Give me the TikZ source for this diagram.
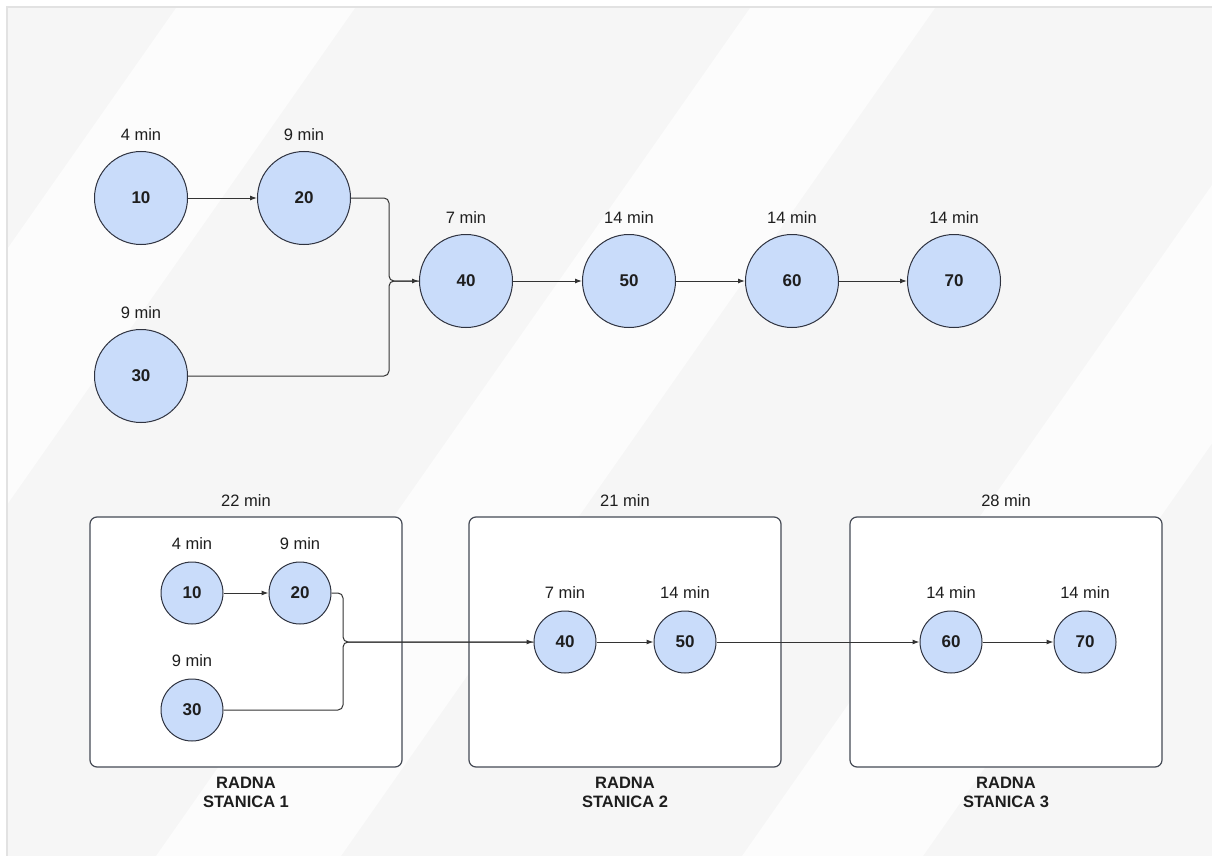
\documentclass[tikz,border=0pt]{standalone}
\usepackage{fontspec}
\setmainfont{Liberation Sans}
\usetikzlibrary{arrows.meta,calc}
\definecolor{bgc}{HTML}{F6F6F6}
\definecolor{bandc}{HTML}{FCFCFC}
\definecolor{framec}{HTML}{E2E2E2}
\definecolor{circfill}{HTML}{C9DCFA}
\definecolor{circline}{HTML}{2F3340}
\definecolor{linec}{HTML}{333333}
\definecolor{boxline}{HTML}{454A55}
\definecolor{txt}{HTML}{1E1E1E}
\begin{document}
\begin{tikzpicture}[x=1pt,y=-1pt,
  big/.style={circle,draw=circline,fill=circfill,line width=1pt,minimum size=93pt,inner sep=0pt,
    font=\fontsize{17}{20}\selectfont\bfseries,text=txt},
  small/.style={big,minimum size=62pt},
  lbl/.style={font=\fontsize{16.5}{19}\selectfont,text=txt,inner sep=0pt},
  conn/.style={draw=linec,line width=1pt},
  arr/.style={conn,-{Latex[length=7pt,width=5pt]}},
  station/.style={draw=boxline,fill=white,line width=1.2pt,rounded corners=7pt},
  stlbl/.style={font=\fontsize{16.5}{19}\selectfont\bfseries,text=txt,align=center,inner sep=0pt}
]
\useasboundingbox (0,0) rectangle (1212,856);
% background
\fill[white] (0,0) rectangle (1212,856);
\fill[bgc] (8,8) rectangle (1212,856);
\begin{scope}
\clip (8,8) rectangle (1212,856);
\fill[bandc] (176,8) -- (355,8) -- (-239,856) -- (-418,856) -- cycle;
\fill[bandc] (750,8) -- (935,8) -- (341,856) -- (156,856) -- cycle;
\fill[bandc] (1336,8) -- (1517,8) -- (923,856) -- (742,856) -- cycle;
\end{scope}
\draw[framec,line width=2pt] (7,856) -- (7,7) -- (1212,7);

% ---------- top diagram ----------
\node[big] (t10) at (141,198) {10};
\node[big] (t20) at (304,198) {20};
\node[big] (t30) at (141,376) {30};
\node[big] (t40) at (466,281) {40};
\node[big] (t50) at (629,281) {50};
\node[big] (t60) at (792,281) {60};
\node[big] (t70) at (954,281) {70};
\node[lbl] (lt10) at ($(t10.north)+(0,-16)$) {4 min};
\node[lbl] (lt20) at ($(t20.north)+(0,-16)$) {9 min};
\node[lbl] (lt30) at ($(t30.north)+(0,-16)$) {9 min};
\node[lbl] (lt40) at ($(t40.north)+(0,-16)$) {7 min};
\node[lbl] (lt50) at ($(t50.north)+(0,-16)$) {14 min};
\node[lbl] (lt60) at ($(t60.north)+(0,-16)$) {14 min};
\node[lbl] (lt70) at ($(t70.north)+(0,-16)$) {14 min};
\coordinate (tj) at (389,281);
\draw[arr] (t10) -- (t20);
\draw[conn,rounded corners=5pt] (t20.east) -- (tj |- t20.east) -- (tj) -- (t40.west);
\draw[arr,rounded corners=5pt] (t30.east) -- (tj |- t30.east) -- (tj) -- (t40.west);
\draw[arr] (t40) -- (t50);
\draw[arr] (t50) -- (t60);
\draw[arr] (t60) -- (t70);

% ---------- bottom diagram ----------
\draw[station] (90,517) rectangle (402,767);
\draw[station] (469,517) rectangle (781,767);
\draw[station] (850,517) rectangle (1162,767);
\node[lbl] (s1t) at (246,501) {22 min};
\node[lbl] (s2t) at (625,501) {21 min};
\node[lbl] (s3t) at (1006,501) {28 min};
\node[stlbl] (s1b) at (246,792) {RADNA\\STANICA 1};
\node[stlbl] (s2b) at (625,792) {RADNA\\STANICA 2};
\node[stlbl] (s3b) at (1006,792) {RADNA\\STANICA 3};

\node[small] (b10) at (192,593) {10};
\node[small] (b20) at (300,593) {20};
\node[small] (b30) at (192,710) {30};
\node[small] (b40) at (565,642) {40};
\node[small] (b50) at (685,642) {50};
\node[small] (b60) at (951,642) {60};
\node[small] (b70) at (1085,642) {70};
\node[lbl] (lb10) at ($(b10.north)+(0,-18)$) {4 min};
\node[lbl] (lb20) at ($(b20.north)+(0,-18)$) {9 min};
\node[lbl] (lb30) at ($(b30.north)+(0,-18)$) {9 min};
\node[lbl] (lb40) at ($(b40.north)+(0,-18)$) {7 min};
\node[lbl] (lb50) at ($(b50.north)+(0,-18)$) {14 min};
\node[lbl] (lb60) at ($(b60.north)+(0,-18)$) {14 min};
\node[lbl] (lb70) at ($(b70.north)+(0,-18)$) {14 min};
\coordinate (bj) at (343,642);
\draw[arr] (b10) -- (b20);
\draw[conn,rounded corners=5pt] (b20.east) -- (bj |- b20.east) -- (bj) -- (b40.west);
\draw[arr,rounded corners=5pt] (b30.east) -- (bj |- b30.east) -- (bj) -- (b40.west);
\draw[arr] (b40) -- (b50);
\draw[arr] (b50) -- (b60);
\draw[arr] (b60) -- (b70);
\end{tikzpicture}
\end{document}
